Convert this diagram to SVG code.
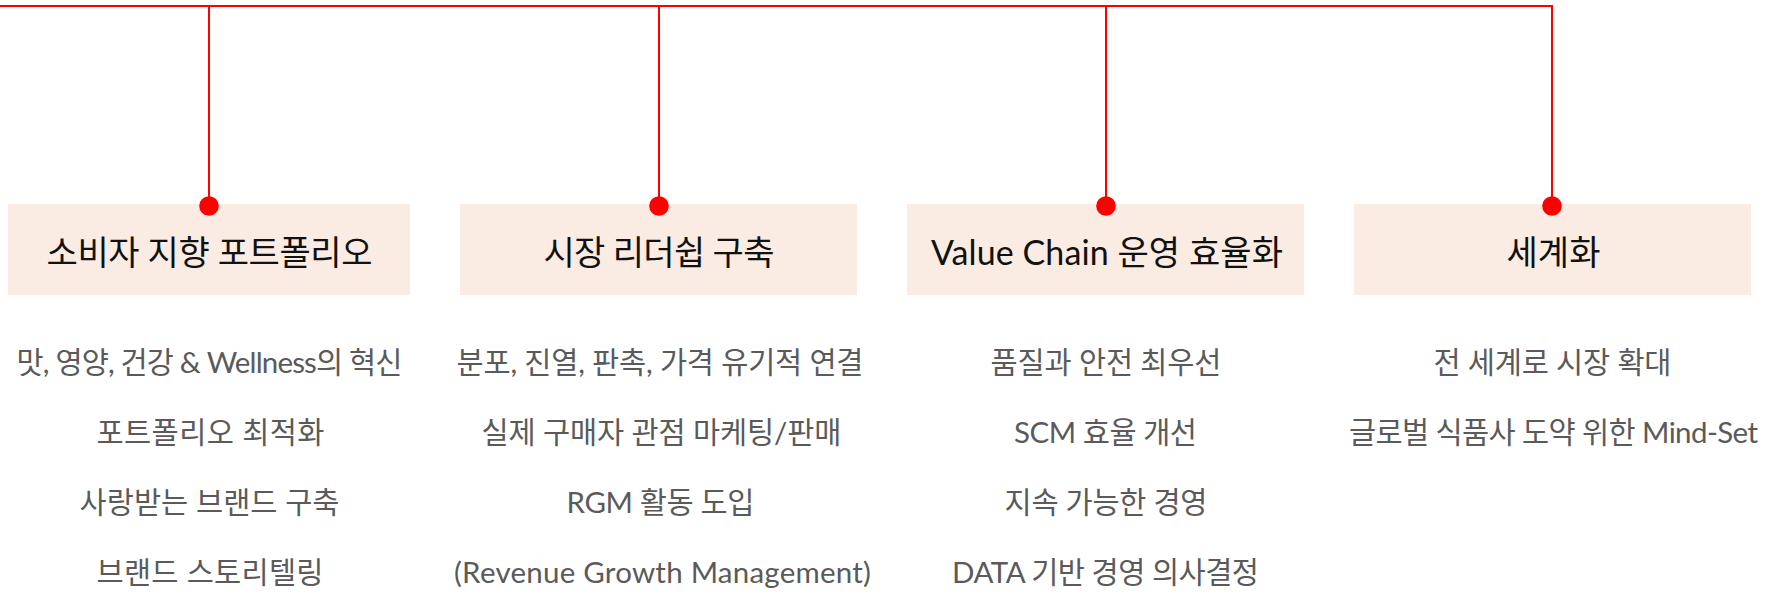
<svg xmlns="http://www.w3.org/2000/svg" width="1767" height="594" viewBox="0 0 1767 594">
<style>
.box{fill:#FBECE3}
.title{font-family:"Lato","Noto Sans CJK KR",sans-serif;font-size:34px;fill:#111111;text-anchor:middle}
.item{font-family:"Lato","Noto Sans CJK KR",sans-serif;font-size:29.5px;fill:#5a5a5a;text-anchor:middle}
.conn{fill:none;stroke:#FF0000;stroke-width:2}
</style>
<defs>
<marker id="dot" markerUnits="userSpaceOnUse" markerWidth="22" markerHeight="22" refX="11" refY="11" viewBox="0 0 22 22">
<circle cx="11" cy="11" r="9.8" fill="#FF0000"/>
</marker>
</defs>
<rect width="1767" height="594" fill="#ffffff"/>
<g id="node-consumer">
<rect class="box" x="8" y="204" width="402" height="91"/>
<text class="title" x="209.5" y="265" textLength="326">소비자 지향 포트폴리오</text>
<text class="item" x="209.5" y="373" textLength="386">맛, 영양, 건강 &amp; Wellness의 혁신</text>
<text class="item" x="210.5" y="443" textLength="228">포트폴리오 최적화</text>
<text class="item" x="209.5" y="513" textLength="260">사랑받는 브랜드 구축</text>
<text class="item" x="210" y="583" textLength="227">브랜드 스토리텔링</text>
</g>
<g id="node-market">
<rect class="box" x="460" y="204" width="397" height="91"/>
<text class="title" x="659" y="265" textLength="231">시장 리더쉽 구축</text>
<text class="item" x="660" y="373" textLength="407">분포, 진열, 판촉, 가격 유기적 연결</text>
<text class="item" x="661.5" y="443" textLength="360">실제 구매자 관점 마케팅/판매</text>
<text class="item" x="660.5" y="513" textLength="188">RGM 활동 도입</text>
<text class="item" x="662.5" y="583" textLength="417">(Revenue Growth Management)</text>
</g>
<g id="node-valuechain">
<rect class="box" x="907" y="204" width="397" height="91"/>
<text class="title" x="1107" y="265" textLength="352">Value Chain 운영 효율화</text>
<text class="item" x="1106" y="373" textLength="231">품질과 안전 최우선</text>
<text class="item" x="1105.5" y="443" textLength="183">SCM 효율 개선</text>
<text class="item" x="1106" y="513" textLength="203">지속 가능한 경영</text>
<text class="item" x="1105.5" y="583" textLength="307">DATA 기반 경영 의사결정</text>
</g>
<g id="node-global">
<rect class="box" x="1354" y="204" width="397" height="91"/>
<text class="title" x="1553.5" y="265" textLength="94">세계화</text>
<text class="item" x="1552.5" y="373" textLength="238">전 세계로 시장 확대</text>
<text class="item" x="1553.5" y="443" textLength="409">글로벌 식품사 도약 위한 Mind-Set</text>
</g>
<g id="connectors">
<path class="conn" d="M0 6 H1552 V206" marker-end="url(#dot)"/>
<path class="conn" d="M209 6 V206" marker-end="url(#dot)"/>
<path class="conn" d="M659 6 V206" marker-end="url(#dot)"/>
<path class="conn" d="M1106 6 V206" marker-end="url(#dot)"/>
</g>
</svg>
